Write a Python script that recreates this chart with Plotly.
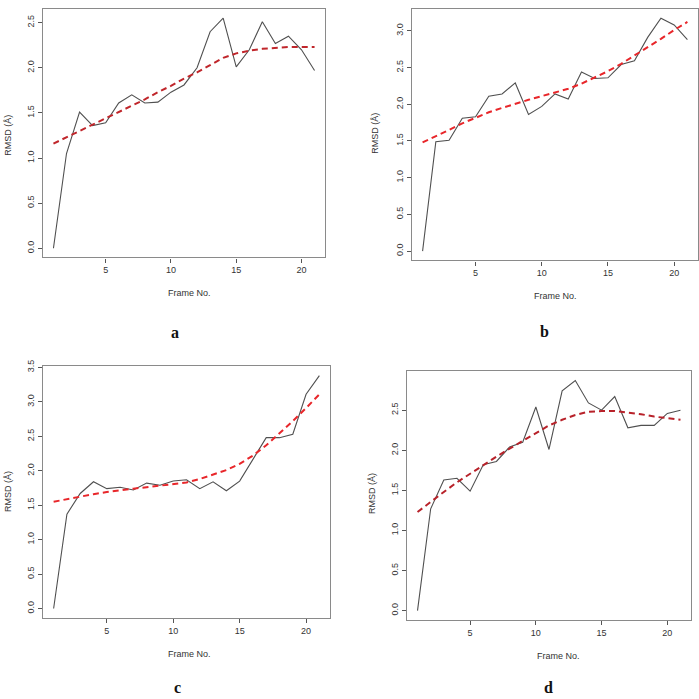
import plotly.graph_objects as go

frames = list(range(1, 22))

rmsd_a = [0.00, 1.05, 1.51, 1.36, 1.39, 1.61, 1.70, 1.61, 1.62, 1.73, 1.81,
          2.00, 2.40, 2.55, 2.01, 2.20, 2.51, 2.27, 2.35, 2.20, 1.97]
fit_a = [1.16, 1.23, 1.30, 1.37, 1.44, 1.51, 1.58, 1.65, 1.73, 1.80, 1.88,
         1.95, 2.03, 2.11, 2.16, 2.19, 2.21, 2.22, 2.23, 2.23, 2.23]

rmsd_b = [0.00, 1.49, 1.51, 1.81, 1.83, 2.11, 2.14, 2.29, 1.86, 1.97, 2.14,
          2.07, 2.44, 2.35, 2.36, 2.54, 2.59, 2.91, 3.17, 3.08, 2.88]
fit_b = [1.48, 1.56, 1.65, 1.74, 1.82, 1.89, 1.95, 2.01, 2.06, 2.11, 2.16,
         2.21, 2.28, 2.36, 2.45, 2.55, 2.66, 2.77, 2.89, 3.01, 3.12]

rmsd_c = [0.00, 1.37, 1.67, 1.84, 1.74, 1.76, 1.72, 1.82, 1.79, 1.85, 1.87,
          1.74, 1.84, 1.71, 1.85, 2.17, 2.48, 2.48, 2.53, 3.11, 3.38]
fit_c = [1.55, 1.59, 1.62, 1.66, 1.69, 1.72, 1.74, 1.76, 1.78, 1.80, 1.83,
         1.88, 1.94, 2.01, 2.10, 2.22, 2.37, 2.54, 2.72, 2.91, 3.11]

rmsd_d = [0.00, 1.27, 1.63, 1.65, 1.49, 1.82, 1.86, 2.04, 2.10, 2.54, 2.01,
          2.74, 2.87, 2.59, 2.50, 2.67, 2.28, 2.31, 2.31, 2.46, 2.50]
fit_d = [1.23, 1.36, 1.48, 1.60, 1.71, 1.82, 1.92, 2.02, 2.12, 2.22, 2.31,
         2.38, 2.44, 2.48, 2.49, 2.49, 2.47, 2.45, 2.42, 2.40, 2.38]

panel_labels = ["a", "b", "c", "d"]
x_title = "Frame No."
y_title = "RMSD (Å)"
x_ticks = [5, 10, 15, 20]
y_ticks = {"a": [0, 0.5, 1.0, 1.5, 2.0, 2.5],
           "b": [0, 0.5, 1.0, 1.5, 2.0, 2.5, 3.0],
           "c": [0, 0.5, 1.0, 1.5, 2.0, 2.5, 3.0, 3.5],
           "d": [0, 0.5, 1.0, 1.5, 2.0, 2.5]}

W = H = 699


def px(x):
    return x / W


def py(y):
    return 1 - y / H


# plot boxes in window pixels: (left, right, top, bottom)
boxes = {"a": (43, 325, 2, 253),
         "b": (412, 698, 2, 256),
         "c": (43, 330, 363, 617),
         "d": (407, 691, 368, 619)}
fit_colors = {"a": "#c0262b", "b": "#e8262a", "c": "#e8262a", "d": "#b8222a"}
data = {"a": (rmsd_a, fit_a), "b": (rmsd_b, fit_b),
        "c": (rmsd_c, fit_c), "d": (rmsd_d, fit_d)}
xlab_pos = {"a": (190, 289), "b": (555, 292), "c": (190, 654), "d": (558, 656)}
ylab_pos = {"a": (8, 130), "b": (375, 128), "c": (8, 490), "d": (372, 492)}
letter_pos = {"a": (175, 329), "b": (544, 328), "c": (177, 687), "d": (548, 687)}

fig = go.Figure()
annotations = []
for i, k in enumerate(panel_labels):
    n = "" if i == 0 else str(i + 1)
    l, r, t, b = boxes[k]
    vals, fit = data[k]
    ymin, ymax = min(vals), max(vals)
    pad = 0.04 * (ymax - ymin)
    xpad = 0.04 * (frames[-1] - frames[0])
    fig.add_trace(go.Scatter(x=frames, y=vals, mode="lines",
                             line=dict(color="#505050", width=1.1),
                             xaxis="x" + n, yaxis="y" + n, showlegend=False))
    fig.add_trace(go.Scatter(x=frames, y=fit, mode="lines",
                             line=dict(color=fit_colors[k], width=2, dash="6px,4px"),
                             xaxis="x" + n, yaxis="y" + n, showlegend=False))
    common = dict(showgrid=False, zeroline=False, showline=True, mirror=True,
                  linecolor="#8a8a8a", linewidth=1.2, ticks="outside", ticklen=4,
                  tickcolor="#555", tickwidth=1,
                  tickfont=dict(family="Liberation Sans, Arial", size=9, color="#333"))
    fig.update_layout(**{
        "xaxis" + n: dict(domain=[max(0, px(l)), min(1, px(r))], anchor="y" + n,
                          range=[frames[0] - xpad, frames[-1] + xpad],
                          tickvals=x_ticks, **common),
        "yaxis" + n: dict(domain=[max(0, py(b)), min(1, py(t))], anchor="x" + n,
                          range=[ymin - pad, ymax + pad], tickvals=y_ticks[k],
                          ticktext=[f"{v:.1f}" for v in y_ticks[k]],
                          tickangle=-90, **common),
    })
    annotations.append(dict(x=px(xlab_pos[k][0]), y=py(xlab_pos[k][1]),
                            xref="paper", yref="paper", text=x_title, showarrow=False,
                            font=dict(family="Liberation Sans, Arial", size=9, color="#333"),
                            xanchor="center", yanchor="middle"))
    annotations.append(dict(x=px(ylab_pos[k][0]), y=py(ylab_pos[k][1]),
                            xref="paper", yref="paper", text=y_title, showarrow=False,
                            textangle=-90,
                            font=dict(family="Liberation Sans, Arial", size=9, color="#333"),
                            xanchor="center", yanchor="middle"))
    annotations.append(dict(x=px(letter_pos[k][0]), y=py(letter_pos[k][1]),
                            xref="paper", yref="paper", text="<b>" + k + "</b>",
                            showarrow=False,
                            font=dict(family="Liberation Serif, Times New Roman", size=16,
                                      color="#111"),
                            xanchor="center", yanchor="middle"))

fig.update_layout(width=W, height=H, margin=dict(l=0, r=0, t=0, b=0),
                  paper_bgcolor="white", plot_bgcolor="white",
                  annotations=annotations)
fig.write_html("out.html",
               config={"displayModeBar": False},
               post_script="document.body.style.margin='0px';"
                           "document.body.style.overflow='hidden';")
